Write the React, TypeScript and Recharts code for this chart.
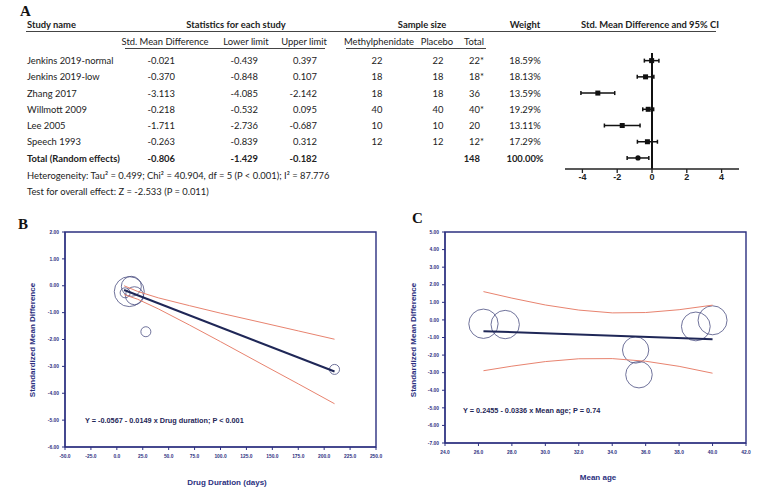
import React from 'react';
import { ScatterChart, Scatter, XAxis, YAxis, ZAxis, ErrorBar, ReferenceLine, ReferenceArea } from 'recharts';

// ---------- Panel A data ----------
const studyNames = ['Jenkins 2019-normal', 'Jenkins 2019-low', 'Zhang 2017', 'Willmott 2009', 'Lee 2005', 'Speech 1993'];
const smd = [-0.021, -0.370, -3.113, -0.218, -1.711, -0.263];
const lowerLimit = [-0.439, -0.848, -4.085, -0.532, -2.736, -0.839];
const upperLimit = [0.397, 0.107, -2.142, 0.095, -0.687, 0.312];
const nMethylphenidate = [22, 18, 18, 40, 10, 12];
const nPlacebo = [22, 18, 18, 40, 10, 12];
const nTotal = [22, 18, 36, 40, 20, 12];
const nTotalStar = [true, true, false, true, false, true];
const weightPct = [18.59, 18.13, 13.59, 19.29, 13.11, 17.29];
const totalLabel = 'Total (Random effects)';
const totalSmd = -0.806;
const totalLower = -1.429;
const totalUpper = -0.182;
const totalN = 148;
const totalWeight = 100.0;
const forestTicks = [-4, -2, 0, 2, 4];
const heterogeneityText = 'Heterogeneity: Tau\u00B2 = 0.499; Chi\u00B2 = 40.904, df = 5 (P < 0.001); I\u00B2 = 87.776';
const overallText = 'Test for overall effect: Z = -2.533 (P = 0.011)';

// ---------- Panel B data ----------
const durationDays = [14, 17, 210, 12, 28, 8];
const durationBubbleWeight = [20.8, 16.8, 5.2, 46.8, 5.2, 5.2];
const durRegX = [7, 210];
const durRegY = [-0.16, -3.19];
const durCiX = [7, 20, 40, 70, 100, 140, 175, 210];
const durCiUpper = [0.0, -0.21, -0.45, -0.74, -1.02, -1.37, -1.68, -1.99];
const durCiLower = [-0.33, -0.5, -0.86, -1.46, -2.08, -2.92, -3.65, -4.39];
const durXTicks = [-50, -25, 0, 25, 50, 75, 100, 125, 150, 175, 200, 225, 250];
const durYTicks = [-6, -5, -4, -3, -2, -1, 0, 1, 2];
const durEquation = 'Y = -0.0567 - 0.0149 x Drug duration; P < 0.001';

// ---------- Panel C data ----------
const meanAge = [40.0, 39.0, 35.6, 26.3, 35.4, 27.6];
const ageRegX = [26.3, 40.0];
const ageRegY = [-0.64, -1.1];
const ageCiX = [26.3, 28, 30, 32, 34, 36, 38, 40];
const ageCiUpper = [1.61, 1.24, 0.85, 0.56, 0.4, 0.42, 0.58, 0.84];
const ageCiLower = [-2.89, -2.63, -2.37, -2.21, -2.2, -2.35, -2.64, -3.03];
const ageXTicks = [24, 26, 28, 30, 32, 34, 36, 38, 40, 42];
const ageYTicks = [-7, -6, -5, -4, -3, -2, -1, 0, 1, 2, 3, 4, 5];
const ageEquation = 'Y = 0.2455 - 0.0336 x Mean age; P = 0.74';

// ---------- styles ----------
const NAVY = '#2c3080';
const REG = '#1f2757';
const CI_RED = '#e8836f';
const BUBBLE = '#4b4f82';
const TXT = '#222';
const TABLE_FONT = 'Lato, "Open Sans", sans-serif';
const PLOT_FONT = '"Liberation Sans", Arial, sans-serif';

const xy = (xs: number[], ys: number[]) => xs.map((x, i) => ({ x, y: ys[i] }));
const Empty = () => <g />;

const forestData = smd.map((v, i) => ({ x: v, y: i, err: [v - lowerLimit[i], upperLimit[i] - v] }));
const forestTotal = [{ x: totalSmd, y: studyNames.length, err: [totalSmd - totalLower, totalUpper - totalSmd] }];

const durBubbles = smd.map((v, i) => ({ x: durationDays[i], y: v, z: durationBubbleWeight[i] }));
const ageBubbles = smd.map((v, i) => ({ x: meanAge[i], y: v, z: weightPct[i] }));

const rowY = (i: number) => 61 + i * 16.25;

function ForestPlot() {
  return (
    <ScatterChart width={174} height={140} margin={{ top: 0, right: 0, left: 0, bottom: 0 }}>
      <XAxis
        type="number"
        dataKey="x"
        domain={[-5, 5]}
        ticks={forestTicks}
        allowDataOverflow
        height={24}
        axisLine={{ stroke: '#222', strokeWidth: 1.5 }}
        tickLine={{ stroke: '#222', strokeWidth: 1.3 }}
        tickSize={4}
        tickMargin={1}
        tick={{ fontSize: 9, fontWeight: 700, fill: TXT, fontFamily: PLOT_FONT }}
      />
      <YAxis type="number" dataKey="y" domain={[-0.47, 6.68]} reversed hide allowDataOverflow />
      <ReferenceLine x={0} stroke="#111" strokeWidth={2} />
      <Scatter
        data={forestData}
        isAnimationActive={false}
        shape={(p: any) => <rect x={p.cx - 2.5} y={p.cy - 2.5} width={5} height={5} fill="#111" />}
      >
        <ErrorBar dataKey="err" direction="x" width={2} stroke="#111" strokeWidth={1.5} />
      </Scatter>
      <Scatter
        data={forestTotal}
        isAnimationActive={false}
        shape={(p: any) => <circle cx={p.cx} cy={p.cy} r={2.6} fill="#111" />}
      >
        <ErrorBar dataKey="err" direction="x" width={2} stroke="#111" strokeWidth={1.5} />
      </Scatter>
    </ScatterChart>
  );
}

interface RegProps {
  width: number;
  height: number;
  xDomain: [number, number];
  yDomain: [number, number];
  xTicks: number[];
  yTicks: number[];
  bubbles: { x: number; y: number; z: number }[];
  zDomain: [number, number];
  zRange: [number, number];
  reg: { x: number; y: number }[];
  ciUp: { x: number; y: number }[];
  ciLo: { x: number; y: number }[];
}

function RegPlot(p: RegProps) {
  const tickStyle = { fontSize: 4.9, fontWeight: 700, fill: NAVY, fontFamily: PLOT_FONT };
  return (
    <ScatterChart width={p.width} height={p.height} margin={{ top: 5, right: 12, left: 0, bottom: 0 }}>
      <XAxis
        type="number"
        dataKey="x"
        domain={p.xDomain}
        ticks={p.xTicks}
        allowDataOverflow
        height={20}
        tickFormatter={(v: number) => v.toFixed(1)}
        axisLine={{ stroke: NAVY, strokeWidth: 1.2 }}
        tickLine={{ stroke: NAVY, strokeWidth: 1 }}
        tickSize={3}
        tickMargin={5}
        tick={tickStyle}
        interval={0}
      />
      <YAxis
        type="number"
        dataKey="y"
        domain={p.yDomain}
        ticks={p.yTicks}
        allowDataOverflow
        width={45}
        tickFormatter={(v: number) => v.toFixed(2)}
        axisLine={{ stroke: NAVY, strokeWidth: 1.2 }}
        tickLine={{ stroke: NAVY, strokeWidth: 1 }}
        tickSize={3}
        tickMargin={3}
        tick={tickStyle}
        interval={0}
      />
      <ZAxis type="number" dataKey="z" domain={p.zDomain} range={p.zRange} />
      <ReferenceArea
        x1={p.xDomain[0]}
        x2={p.xDomain[1]}
        y1={p.yDomain[0]}
        y2={p.yDomain[1]}
        fill="none"
        fillOpacity={0}
        stroke={NAVY}
        strokeWidth={1.4}
      />
      <Scatter
        data={p.bubbles}
        isAnimationActive={false}
        shape="circle"
        fill="none"
        fillOpacity={0}
        stroke={BUBBLE}
        strokeWidth={0.8}
      />
      <Scatter data={p.ciUp} isAnimationActive={false} line={{ stroke: CI_RED, strokeWidth: 1 }} shape={Empty} />
      <Scatter data={p.ciLo} isAnimationActive={false} line={{ stroke: CI_RED, strokeWidth: 1 }} shape={Empty} />
      <Scatter data={p.reg} isAnimationActive={false} line={{ stroke: REG, strokeWidth: 2 }} shape={Empty} />
    </ScatterChart>
  );
}

function fmt3(v: number) {
  return v.toFixed(3);
}

export default function App() {
  const tf = { fontFamily: TABLE_FONT, fontSize: 9.4, fill: TXT };
  const bold = { ...tf, fontWeight: 700 };
  const titleStyle = { fontFamily: PLOT_FONT, fontWeight: 700, fontSize: 8, fill: NAVY };
  const eqStyle = { fontFamily: PLOT_FONT, fontWeight: 700, fontSize: 7.3, fill: REG };
  return (
    <div style={{ position: 'absolute', left: 0, top: 0, width: 757, height: 492, background: '#fff', overflow: 'hidden' }}>
      <svg width={757} height={492} style={{ position: 'absolute', left: 0, top: 0 }}>
        {/* Panel letters */}
        <text x={20} y={15.5} fontFamily='"Liberation Serif", serif' fontWeight={700} fontSize={15} fill="#111">A</text>
        <text x={18} y={228.5} fontFamily='"Liberation Serif", serif' fontWeight={700} fontSize={15} fill="#111">B</text>
        <text x={412} y={222.5} fontFamily='"Liberation Serif", serif' fontWeight={700} fontSize={15} fill="#111">C</text>

        {/* Table headers */}
        <text x={27} y={28} {...bold}>Study name</text>
        <text x={236} y={28} textAnchor="middle" {...bold}>Statistics for each study</text>
        <text x={422} y={28} textAnchor="middle" {...bold}>Sample size</text>
        <text x={525} y={28} textAnchor="middle" {...bold}>Weight</text>
        <text x={650} y={28} textAnchor="middle" {...bold}>Std. Mean Difference and 95% CI</text>
        <line x1={26} x2={716} y1={31.5} y2={31.5} stroke="#444" strokeWidth={1} />

        <text x={165} y={45} textAnchor="middle" {...tf}>Std. Mean Difference</text>
        <text x={246} y={45} textAnchor="middle" {...tf}>Lower limit</text>
        <text x={304} y={45} textAnchor="middle" {...tf}>Upper limit</text>
        <text x={379} y={45} textAnchor="middle" {...tf}>Methylphenidate</text>
        <text x={437} y={45} textAnchor="middle" {...tf}>Placebo</text>
        <text x={474} y={45} textAnchor="middle" {...tf}>Total</text>
        <line x1={125} x2={325} y1={48.5} y2={48.5} stroke="#444" strokeWidth={1} />
        <line x1={346} x2={486} y1={48.5} y2={48.5} stroke="#444" strokeWidth={1} />

        {studyNames.map((name, i) => {
          const y = rowY(i) + 3.2;
          return (
            <g key={name}>
              <text x={27} y={y} {...tf}>{name}</text>
              <text x={175} y={y} textAnchor="end" {...tf}>{fmt3(smd[i])}</text>
              <text x={258} y={y} textAnchor="end" {...tf}>{fmt3(lowerLimit[i])}</text>
              <text x={317} y={y} textAnchor="end" {...tf}>{fmt3(upperLimit[i])}</text>
              <text x={377} y={y} textAnchor="middle" {...tf}>{nMethylphenidate[i]}</text>
              <text x={438} y={y} textAnchor="middle" {...tf}>{nPlacebo[i]}</text>
              <text x={480} y={y} textAnchor="end" {...tf}>{nTotal[i]}</text>
              {nTotalStar[i] && <text x={480} y={y} {...tf}>*</text>}
              <text x={525} y={y} textAnchor="middle" {...tf}>{weightPct[i].toFixed(2) + '%'}</text>
            </g>
          );
        })}
        <g>
          <text x={27} y={rowY(6) + 3.2} {...bold}>{totalLabel}</text>
          <text x={175} y={rowY(6) + 3.2} textAnchor="end" {...bold}>{fmt3(totalSmd)}</text>
          <text x={258} y={rowY(6) + 3.2} textAnchor="end" {...bold}>{fmt3(totalLower)}</text>
          <text x={317} y={rowY(6) + 3.2} textAnchor="end" {...bold}>{fmt3(totalUpper)}</text>
          <text x={480} y={rowY(6) + 3.2} textAnchor="end" {...bold}>{totalN}</text>
          <text x={525} y={rowY(6) + 3.2} textAnchor="middle" {...bold}>{totalWeight.toFixed(2) + '%'}</text>
        </g>
        <text x={27} y={179.2} {...tf}>{heterogeneityText}</text>
        <text x={27} y={195.2} {...tf}>{overallText}</text>

        {/* Panel B texts */}
        <text transform="translate(34.6,340) rotate(-90)" textAnchor="middle" {...titleStyle}>Standardized Mean Difference</text>
        <text x={227} y={485} textAnchor="middle" {...titleStyle}>Drug Duration (days)</text>
        <text x={85} y={422.6} {...eqStyle}>{durEquation}</text>

        {/* Panel C texts */}
        <text transform="translate(415.6,340) rotate(-90)" textAnchor="middle" {...titleStyle}>Standardized Mean Difference</text>
        <text x={598} y={479.7} textAnchor="middle" {...titleStyle}>Mean age</text>
        <text x={463} y={413.4} {...eqStyle}>{ageEquation}</text>
      </svg>

      <div style={{ position: 'absolute', left: 565, top: 53 }}>
        <ForestPlot />
      </div>

      <div style={{ position: 'absolute', left: 20, top: 227 }}>
        <RegPlot
          width={368}
          height={240}
          xDomain={[-50, 250]}
          yDomain={[-6, 2]}
          xTicks={durXTicks}
          yTicks={durYTicks}
          bubbles={durBubbles}
          zDomain={[0, 50]}
          zRange={[0, 755]}
          reg={xy(durRegX, durRegY)}
          ciUp={xy(durCiX, durCiUpper)}
          ciLo={xy(durCiX, durCiLower)}
        />
      </div>

      <div style={{ position: 'absolute', left: 400, top: 227 }}>
        <RegPlot
          width={358}
          height={236}
          xDomain={[24, 42]}
          yDomain={[-7, 5]}
          xTicks={ageXTicks}
          yTicks={ageYTicks}
          bubbles={ageBubbles}
          zDomain={[13, 19.5]}
          zRange={[540, 680]}
          reg={xy(ageRegX, ageRegY)}
          ciUp={xy(ageCiX, ageCiUpper)}
          ciLo={xy(ageCiX, ageCiLower)}
        />
      </div>
    </div>
  );
}
